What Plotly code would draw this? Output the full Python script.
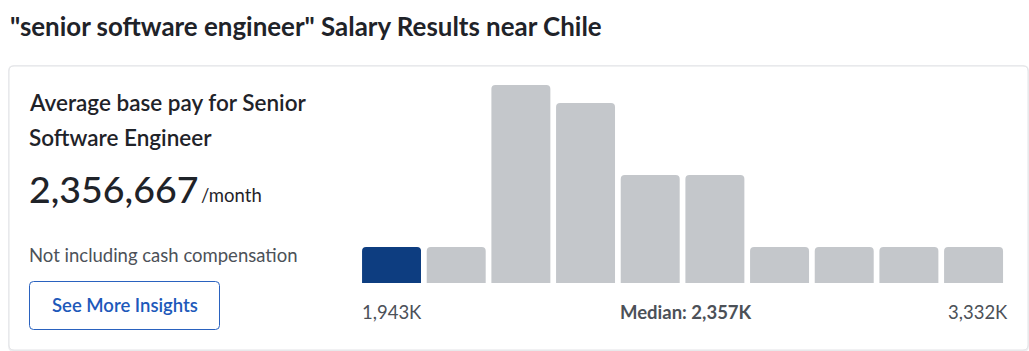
import plotly.graph_objects as go

W, H = 1029, 351

# ---- data ----
bins = list(range(10))
counts = [2, 2, 11, 10, 6, 6, 2, 2, 2, 2]
highlight_bin = 0
min_label = "1,943K"
median_label = "Median: 2,357K"
max_label = "3,332K"
title_text = '"senior software engineer" Salary Results near Chile'
avg_pay = "2,356,667"

DARK = "#0d3d80"
GRAY = "#c4c7cb"
colors = [DARK if i == highlight_bin else GRAY for i in bins]

def px(x):
    return x / W

def py(y):
    return 1 - y / H

def rounded_rect(x0, y0, x1, y1, r):
    rx, ry = r / W, r / H
    X0, X1 = px(x0), px(x1)
    Yt, Yb = py(y0), py(y1)
    return (f"M {X0+rx},{Yt} L {X1-rx},{Yt} Q {X1},{Yt} {X1},{Yt-ry} "
            f"L {X1},{Yb+ry} Q {X1},{Yb} {X1-rx},{Yb} L {X0+rx},{Yb} "
            f"Q {X0},{Yb} {X0},{Yb+ry} L {X0},{Yt-ry} Q {X0},{Yt} {X0+rx},{Yt} Z")

fig = go.Figure()
fig.add_trace(go.Bar(
    x=bins, y=counts,
    marker=dict(color=colors, line=dict(width=0), cornerradius=4),
    hoverinfo="skip", showlegend=False,
))

x_left = 359.2
x_right = x_left + 10 * 64.67
fig.update_layout(
    width=W, height=H,
    margin=dict(l=0, r=0, t=0, b=0),
    paper_bgcolor="white", plot_bgcolor="rgba(0,0,0,0)",
    bargap=0.088,
    xaxis=dict(domain=[px(x_left), px(x_right)], range=[-0.5, 9.5],
               visible=False, fixedrange=True),
    yaxis=dict(domain=[py(283), py(85)], range=[0, max(counts)],
               visible=False, fixedrange=True),
    font=dict(family="Lato, sans-serif"),
)

shapes = []
shapes.append(dict(type="path", xref="paper", yref="paper", layer="below",
                   path=rounded_rect(8, 65, 1029, 352, 6),
                   fillcolor="#eeeff1", line=dict(width=0)))
shapes.append(dict(type="path", xref="paper", yref="paper", layer="below",
                   path=rounded_rect(9, 66, 1028, 350, 5),
                   fillcolor="white", line=dict(color="#e2e3e6", width=1)))
shapes.append(dict(type="path", xref="paper", yref="paper", layer="above",
                   path=rounded_rect(29.5, 281.5, 219.5, 329.5, 4),
                   fillcolor="white", line=dict(color="#2a62bf", width=1)))
fig.update_layout(shapes=shapes)

TEXT = "#1f2329"
GTXT = "#4c5158"
ann = []
def add(text, x, y, size, color, xanchor="left", weight=400):
    ann.append(dict(text=text,
                    x=px(x), y=py(y), xref="paper", yref="paper",
                    xanchor=xanchor, yanchor="middle", showarrow=False,
                    font=dict(size=size, color=color, family="Lato, sans-serif",
                              weight=weight)))

add(title_text, 8, 26, 25.9, TEXT, weight=700)
add("Average base pay for Senior", 27, 103, 22.5, TEXT, weight=600)
add("Software Engineer", 27, 137, 22.5, TEXT, weight=600)
add(avg_pay, 27, 188, 37.5, TEXT, weight=500)
add("/month", 199, 195, 18.5, TEXT)
add("Not including cash compensation", 27, 255, 18.5, GTXT)
add("See More Insights", 124.5, 305, 18.5, "#1d59ba", xanchor="center", weight=600)
add(min_label, 360, 312, 18.5, GTXT)
add(median_label, 685.5, 312, 18.5, GTXT, xanchor="center", weight=700)
add(max_label, 1010, 312, 18.5, GTXT, xanchor="right")
fig.update_layout(annotations=ann)

fig.write_html("out.html")
